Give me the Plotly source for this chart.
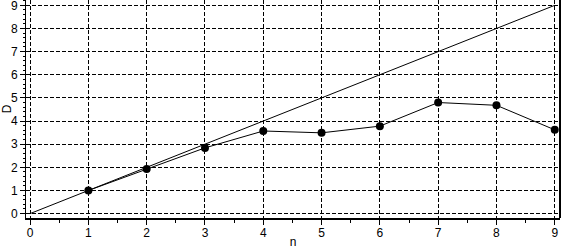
import plotly.graph_objects as go

n_vals = [1, 2, 3, 4, 5, 6, 7, 8, 9]
d_vals = [1.0, 1.93, 2.84, 3.57, 3.49, 3.78, 4.8, 4.68, 3.62]
ref_x = [0, 9]
ref_y = [0, 9]
x_ticks = list(range(0, 10))
y_ticks = list(range(0, 10))

font = dict(family="Liberation Sans, Arial, sans-serif", size=12, color="black")

fig = go.Figure()
fig.add_trace(go.Scatter(x=ref_x, y=ref_y, mode="lines",
                         line=dict(color="black", width=1), showlegend=False))
fig.add_trace(go.Scatter(x=n_vals, y=d_vals, mode="lines+markers",
                         line=dict(color="black", width=1),
                         marker=dict(color="black", size=8, symbol="circle"),
                         showlegend=False))

fig.update_layout(
    width=561, height=249,
    margin=dict(l=26, r=1, t=0, b=31),
    paper_bgcolor="white", plot_bgcolor="white",
    font=font,
    xaxis=dict(range=[-0.07, 9.09], tickvals=x_ticks, ticktext=[str(v) for v in x_ticks],
               showgrid=True, gridcolor="black", griddash="4px,2px", gridwidth=1,
               zeroline=False, showline=True, linecolor="black", linewidth=2,
               ticks="outside", ticklen=5, tickcolor="black", tickwidth=1,
               ticklabelstandoff=-2,
               minor=dict(dtick=0.5, ticks="outside", ticklen=3, tickcolor="black", showgrid=False),
               title=dict(text="n", font=font, standoff=0)),
    yaxis=dict(range=[-0.19, 9.23], tickvals=y_ticks, ticktext=[str(v) for v in y_ticks],
               showgrid=True, gridcolor="black", griddash="4px,2px", gridwidth=1,
               zeroline=False, showline=True, linecolor="black", linewidth=1,
               ticks="outside", ticklen=5, tickcolor="black", tickwidth=1,
               ticklabeloverflow="allow",
               minor=dict(dtick=0.2, ticks="outside", ticklen=2, tickcolor="black", showgrid=False),
               title=dict(text="D", font=font, standoff=4)),
    shapes=[dict(type="line", xref="paper", yref="paper", x0=1, x1=1, y0=0, y1=1,
                 line=dict(color="black", width=2))],
)

fig.write_html("out.html")
